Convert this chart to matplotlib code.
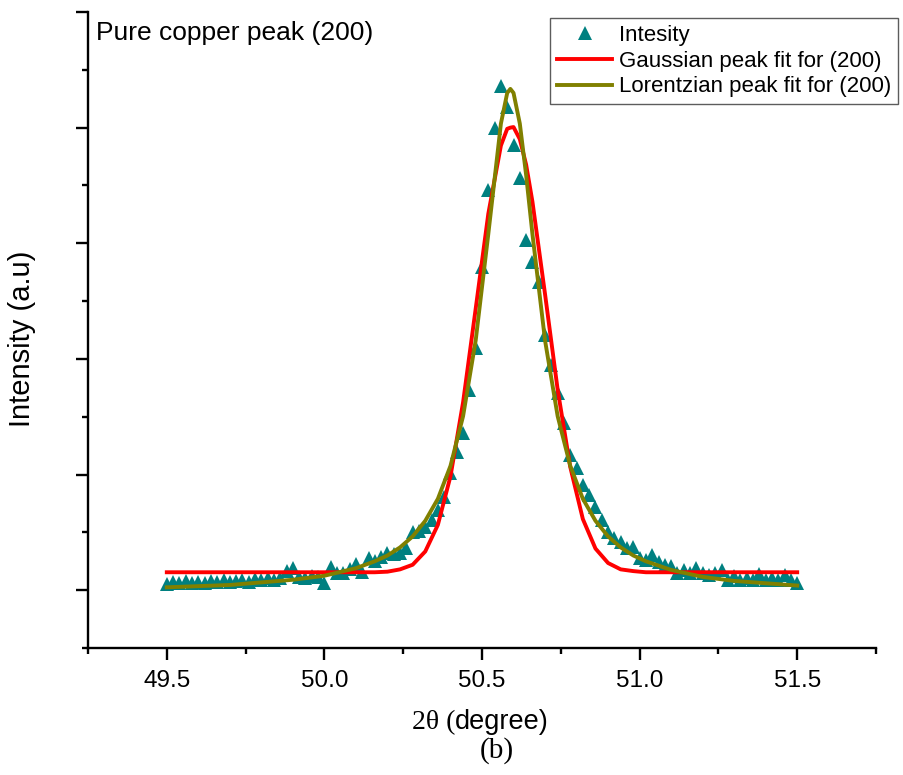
import numpy as np
import matplotlib
matplotlib.use("Agg")
import matplotlib.pyplot as plt
from matplotlib.ticker import MultipleLocator, NullFormatter

plt.rcParams['font.family'] = ['Liberation Sans', 'DejaVu Sans']

# 2theta scan, step 0.02 degree
two_theta = np.linspace(49.5, 51.5, 101)
intensity = [10, 14, 12, 16, 12, 14, 12, 16, 14, 17,
             14, 16, 17, 14, 19, 17, 21, 17, 21, 33,
             38, 22, 21, 24, 22, 12, 40, 30, 29, 36,
             45, 31, 55, 50, 57, 64, 62, 64, 73, 100,
             103, 109, 121, 138, 161, 202, 239, 272, 346, 419,
             559, 692, 799, 872, 836, 770, 713, 605, 567, 533,
             441, 389, 341, 289, 234, 211, 182, 164, 144, 121,
             100, 90, 83, 73, 74, 55, 52, 61, 48, 43,
             42, 29, 35, 29, 38, 29, 26, 29, 35, 17,
             24, 17, 21, 17, 28, 17, 21, 17, 26, 17, 12]

# fitted curves
fit_x = [49.50, 49.70, 49.90, 50.00, 50.10, 50.16, 50.20, 50.24, 50.28, 50.32,
         50.36, 50.40, 50.44, 50.48, 50.52, 50.56, 50.58, 50.59, 50.60, 50.62,
         50.64, 50.66, 50.70, 50.74, 50.78, 50.82, 50.86, 50.90, 50.94, 50.98,
         51.02, 51.10, 51.20, 51.30, 51.40, 51.50]
gauss_fit = [31, 31, 31, 31, 31, 31, 32, 36, 44, 67,
             113, 197, 325, 487, 651, 769, 798, 800, 801, 780,
             736, 672, 512, 347, 213, 123, 72, 47, 36, 33,
             31, 31, 31, 31, 31, 31]
lorentz_fit = [5, 9, 18, 25, 38, 50, 60, 74, 93, 120,
               158, 215, 301, 432, 616, 807, 860, 867, 860, 807,
               718, 616, 432, 301, 215, 158, 120, 93, 74, 60,
               50, 35, 23, 16, 12, 8]

fig = plt.figure(figsize=(9.04, 7.75), dpi=100)
ax = fig.add_axes([88 / 904, 1 - 648 / 775, (876 - 88) / 904, (648 - 12) / 775])

ax.plot(two_theta, intensity, linestyle='none', marker='^', markersize=10.5,
        markeredgewidth=0, color='#008080', label='Intesity', zorder=2)
ax.plot(fit_x, gauss_fit, color='#ff0000', linewidth=2.8,
        label='Gaussian peak fit for (200)', zorder=3)
ax.plot(fit_x, lorentz_fit, color='#808000', linewidth=2.8,
        label='Lorentzian peak fit for (200)', zorder=4)

ax.set_xlim(49.25, 51.75)
ax.set_ylim(-100, 1000)
ax.xaxis.set_major_locator(MultipleLocator(0.5))
ax.xaxis.set_minor_locator(MultipleLocator(0.25))
ax.yaxis.set_major_locator(MultipleLocator(200))
ax.yaxis.set_minor_locator(MultipleLocator(100))
ax.yaxis.set_major_formatter(NullFormatter())
ax.xaxis.set_major_formatter(plt.FuncFormatter(lambda v, p: '%.1f' % v))

for side in ['top', 'right']:
    ax.spines[side].set_visible(False)
for side in ['left', 'bottom']:
    ax.spines[side].set_linewidth(1.7)
ax.tick_params(which='major', direction='out', length=8.5, width=1.7,
               labelsize=17.5, pad=7)
ax.tick_params(which='minor', direction='out', length=4.5, width=1.7)

leg = ax.legend(loc='upper right', bbox_to_anchor=(898 / 904, 1 - 18 / 775),
                bbox_transform=fig.transFigure, borderaxespad=0,
                fontsize=16, frameon=True, fancybox=False, labelspacing=0.22,
                handlelength=2.5, handletextpad=0.3, borderpad=0.3)
leg.get_frame().set_edgecolor('#333333')
leg.get_frame().set_linewidth(1.0)

fig.text(96 / 904, 1 - 40 / 775, 'Pure copper peak (200)', fontsize=19,
         ha='left', va='baseline')
fig.text(22 / 904, 1 - 339 / 775, 'Intensity (a.u)', fontsize=21,
         rotation=90, ha='center', va='center')
fig.text(455 / 904, 1 - 729 / 775, '2\u03b8 (', fontsize=20,
         family='Liberation Serif', ha='right', va='baseline')
fig.text(455 / 904, 1 - 729 / 775, 'degree)', fontsize=19.5,
         ha='left', va='baseline')
fig.text(497 / 904, 1 - 751 / 775, '(b)', fontsize=21,
         family='Liberation Serif', ha='center', va='center')

plt.savefig('out.png', dpi=100)
plt.close()
